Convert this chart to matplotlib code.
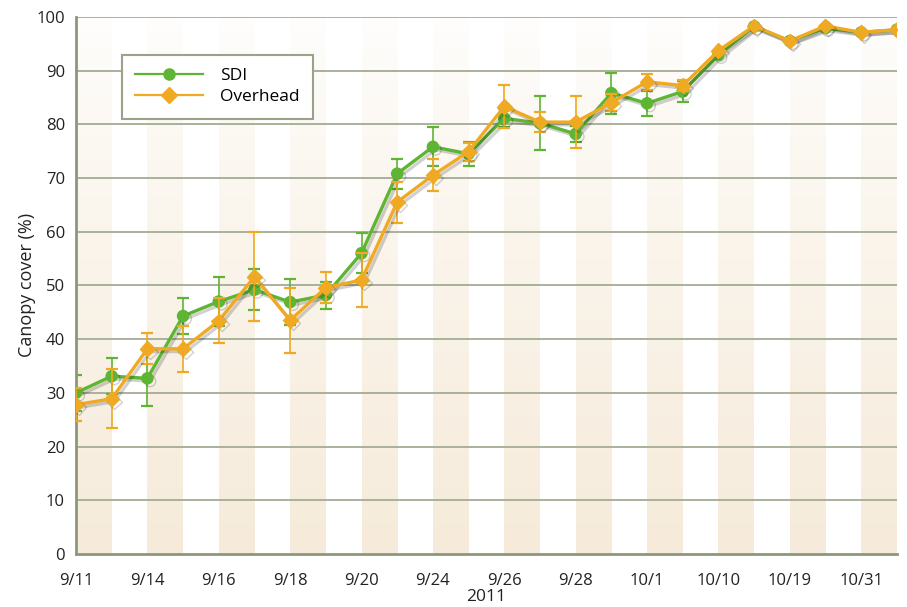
import matplotlib
matplotlib.use("Agg")
import matplotlib.pyplot as plt
import matplotlib.patheffects as pe
import numpy as np

plt.rcParams["font.family"] = ["Open Sans", "DejaVu Sans"]

TICK_LABELS = ["9/11", "9/14", "9/16", "9/18", "9/20", "9/24",
               "9/26", "9/28", "10/1", "10/10", "10/19", "10/31"]

SDI = [30.0, 33.1, 32.7, 44.3, 47.0, 49.2, 46.9, 48.2, 56.0, 70.8, 75.8, 74.5,
       81.1, 80.2, 78.2, 85.8, 83.9, 86.1, 92.9, 98.2, 95.5, 97.9, 97.1, 97.6]
SDI_ERR = [3.3, 3.3, 5.2, 3.3, 4.5, 3.8, 4.3, 2.5, 3.7, 2.8, 3.6, 2.2,
           1.7, 5.0, 1.5, 3.8, 2.3, 1.9, 0, 0, 0, 0, 0, 0]

OVERHEAD = [27.8, 28.9, 38.2, 38.2, 43.4, 51.6, 43.5, 49.6, 51.0, 65.5, 70.5, 74.9,
            83.3, 80.4, 80.4, 84.0, 87.9, 87.2, 93.7, 98.3, 95.5, 98.3, 97.1, 97.6]
OVERHEAD_ERR = [3.1, 5.5, 2.9, 4.3, 4.2, 8.3, 6.1, 2.9, 5.0, 3.8, 3.0, 1.7,
                4.0, 1.9, 4.9, 1.6, 1.5, 1.0, 0, 0, 0, 0, 0, 0]

GREEN = "#5db533"
ORANGE = "#f0a922"
GRID = "#a3ab93"
SPINE = "#8c977c"


def main() -> None:
    fig = plt.figure(figsize=(9.07, 6.07), dpi=100)
    ax = fig.add_axes([0.0838, 0.0873, 0.905, 0.885])

    x = np.arange(len(SDI))

    # cream gradient stripes between every other pair of points
    grad = np.linspace(0, 1, 256).reshape(-1, 1)
    cream = np.zeros((256, 1, 4))
    cream[..., 0] = 0.965
    cream[..., 1] = 0.925
    cream[..., 2] = 0.855
    cream[..., 3] = (1 - grad) ** 0.8 * 0.95 + 0.05
    for i in range(0, len(SDI) - 1, 2):
        ax.imshow(cream, extent=(i, i + 1, 0, 100), origin="lower",
                  aspect="auto", zorder=0, interpolation="bilinear")

    for v in range(10, 101, 10):
        ax.axhline(v, color=GRID, linewidth=1.3, zorder=1)

    shadow = [pe.SimpleLineShadow(offset=(2, -2), alpha=0.18, rho=0.3),
              pe.Normal()]

    ax.errorbar(x, SDI, yerr=SDI_ERR, fmt="none", ecolor=GREEN,
                elinewidth=1.2, capsize=4, capthick=1.6, zorder=2)
    ax.plot(x, SDI, color=GREEN, linewidth=2.4, marker="o", markersize=8,
            label="SDI", zorder=3, path_effects=shadow)

    ax.errorbar(x, OVERHEAD, yerr=OVERHEAD_ERR, fmt="none", ecolor=ORANGE,
                elinewidth=1.2, capsize=4, capthick=1.6, zorder=4)
    ax.plot(x, OVERHEAD, color=ORANGE, linewidth=2.4, marker="D", markersize=7.5,
            label="Overhead", zorder=5, path_effects=shadow)

    ax.set_xlim(0, len(SDI) - 1)
    ax.set_ylim(0, 100)
    ax.set_yticks(range(0, 101, 10))
    ax.set_xticks(x[::2])
    ax.set_xticklabels(TICK_LABELS)
    ax.tick_params(axis="both", length=0, labelsize=12, colors="#222222")
    ax.tick_params(axis="x", pad=14)
    ax.tick_params(axis="y", pad=8)

    for side in ["top", "right"]:
        ax.spines[side].set_visible(False)
    for side in ["left", "bottom"]:
        ax.spines[side].set_color(SPINE)
        ax.spines[side].set_linewidth(2)

    ax.set_ylabel("Canopy cover (%)", fontsize=13, color="#222222", labelpad=0)
    ax.set_xlabel("2011", fontsize=12.5, color="#222222")
    ax.xaxis.set_label_coords(0.5, -0.08)
    ax.xaxis.label.set_va("center")

    leg = ax.legend(loc="upper left", bbox_to_anchor=(0.056, 0.929),
                    fontsize=12.5, frameon=True, fancybox=False,
                    handlelength=3.9, borderpad=0.75, labelspacing=0.3,
                    handletextpad=1.0, borderaxespad=0)
    leg.get_frame().set_edgecolor("#9aa38a")
    leg.get_frame().set_linewidth(1.5)
    leg.get_frame().set_facecolor("white")
    leg.get_frame().set_alpha(1)
    for line in leg.get_lines():
        line.set_path_effects([])
        line.set_linewidth(1.6)
        line.set_markersize(8)

    fig.savefig("out.png", dpi=100)


if __name__ == "__main__":
    main()
